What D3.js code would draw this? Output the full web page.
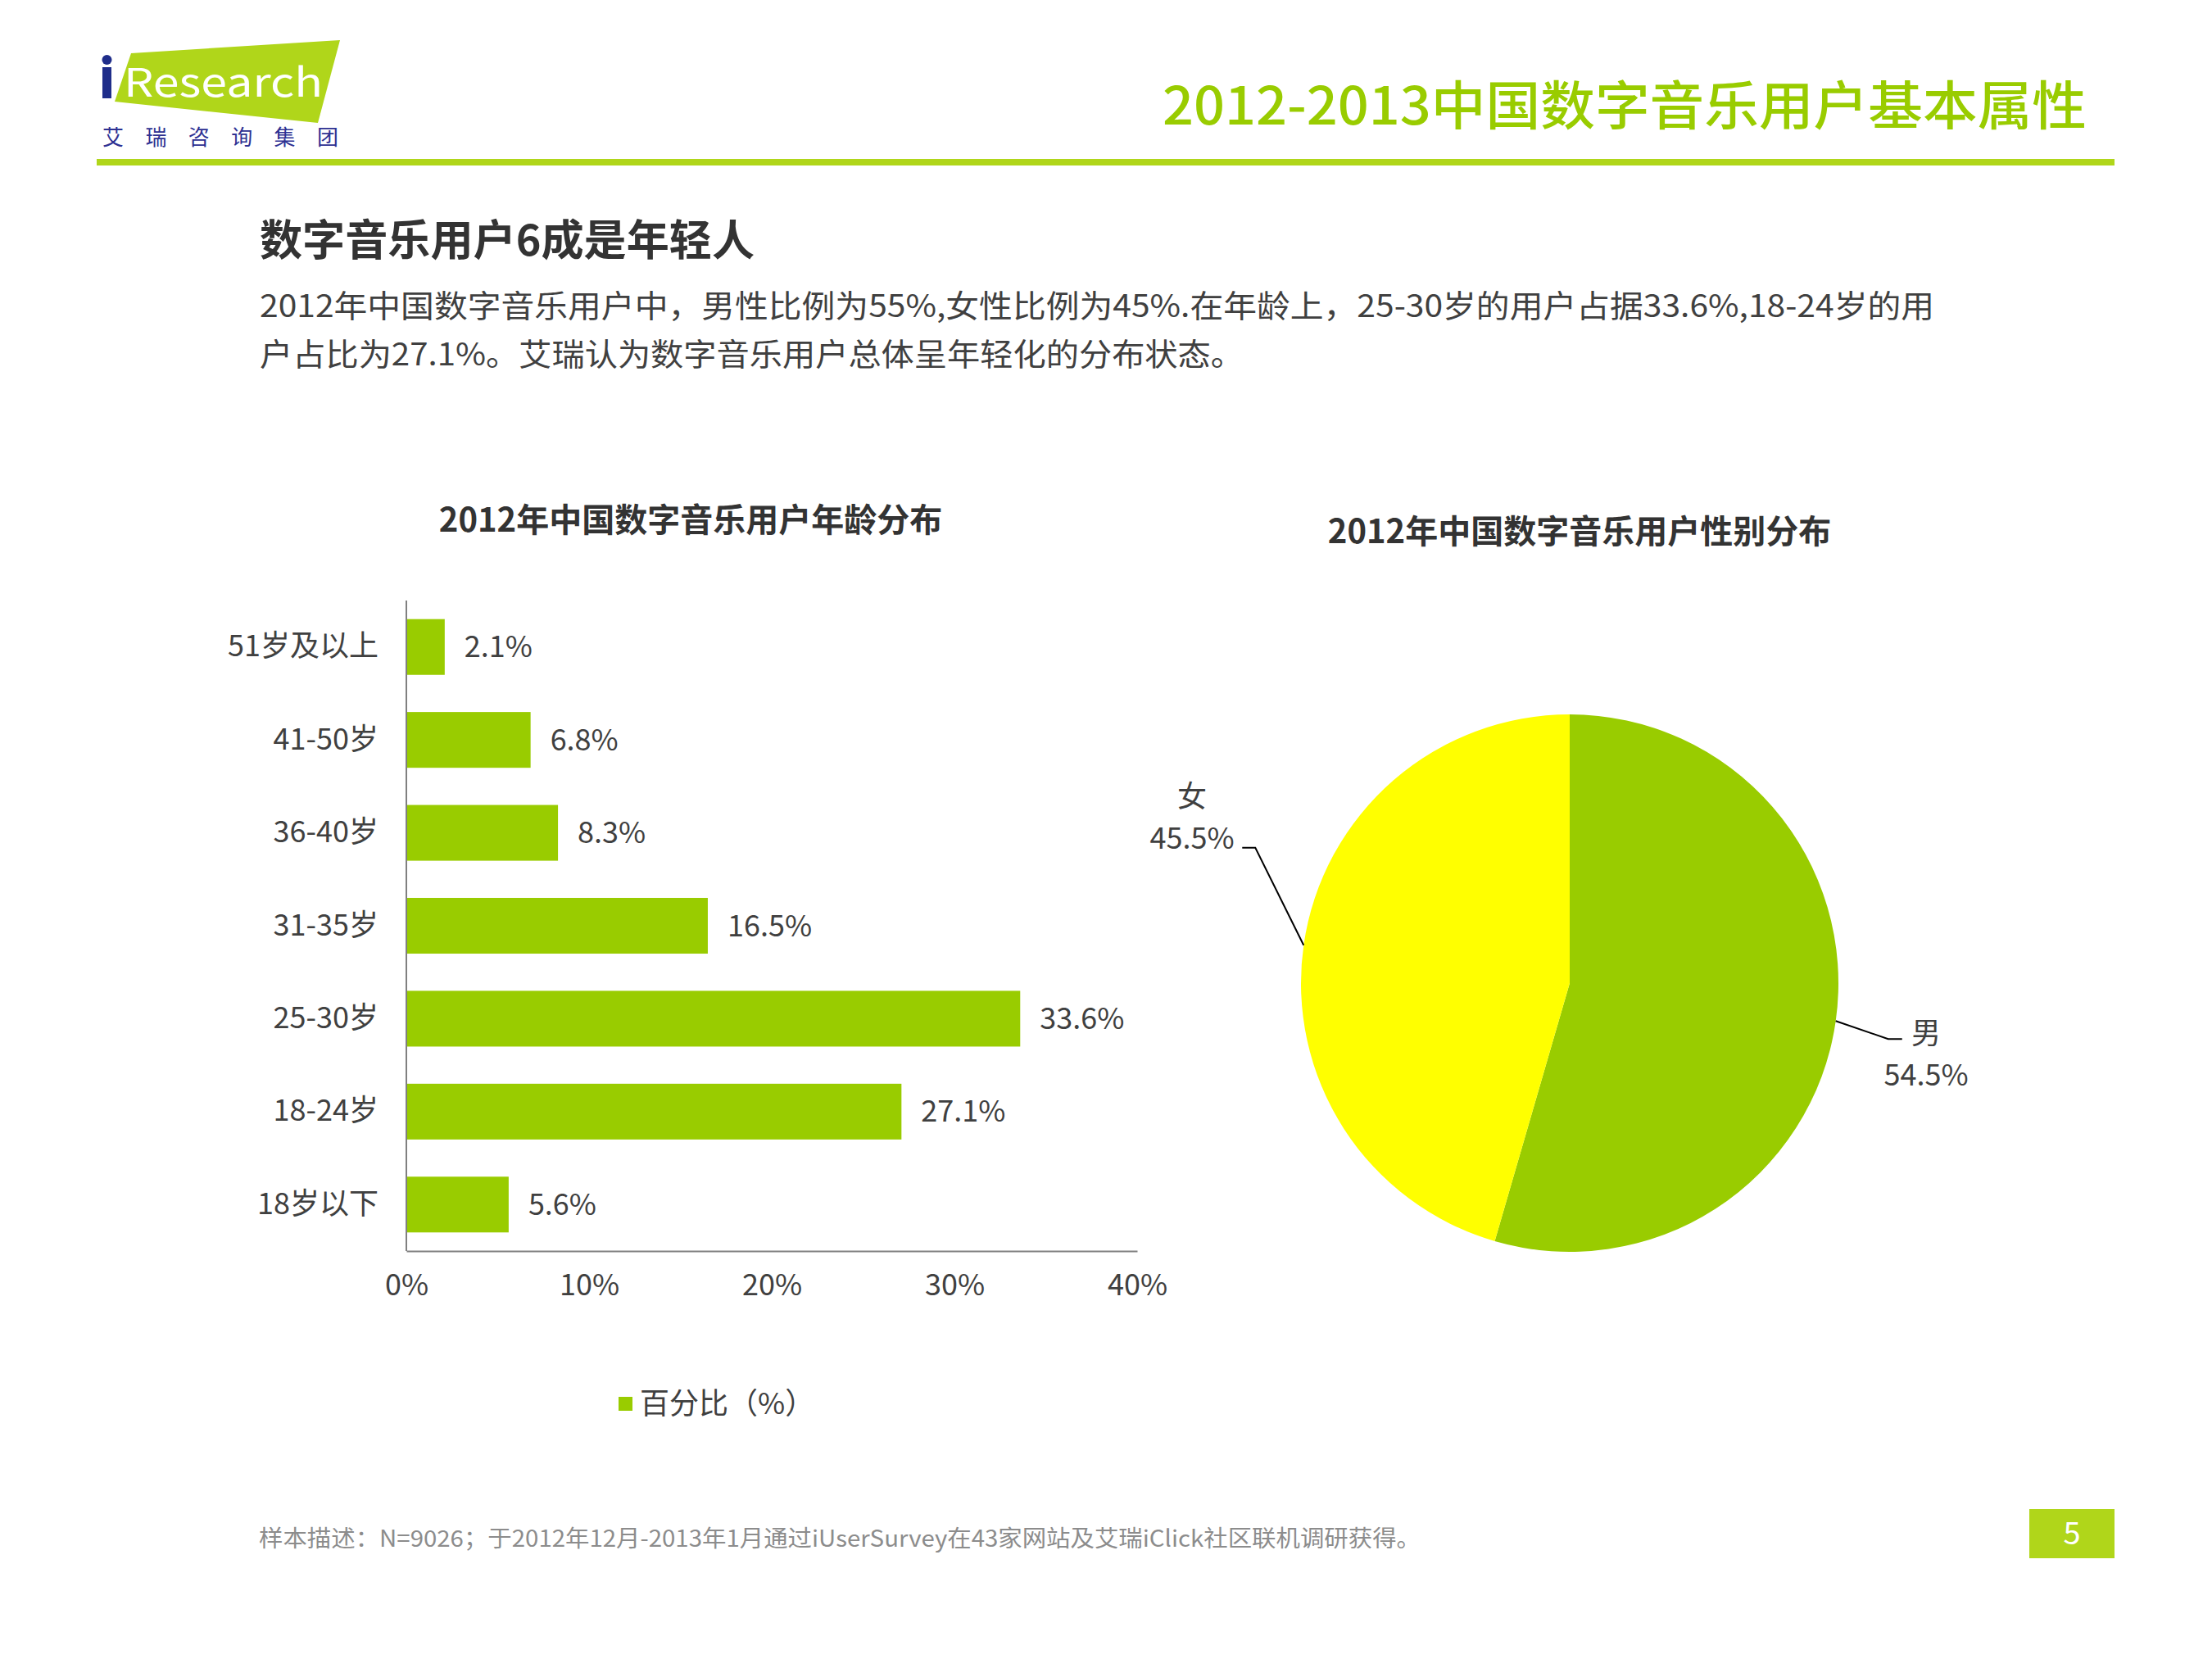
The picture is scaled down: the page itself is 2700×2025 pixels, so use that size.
<!DOCTYPE html>
<html><head><meta charset="utf-8">
<script src="https://cdn.jsdelivr.net/npm/d3@7/dist/d3.min.js"></script>
<style>html,body{margin:0;padding:0;background:#fff;}svg{display:block;}</style>
</head><body>
<script>
// ---- data ----
const ageCategories = ["51岁及以上","41-50岁","36-40岁","31-35岁","25-30岁","18-24岁","18岁以下"];
const ageValues = [2.1, 6.8, 8.3, 16.5, 33.6, 27.1, 5.6];
const xTickValues = [0, 10, 20, 30, 40];
const genderLabels = ["男", "女"];
const genderValues = [54.5, 45.5];
const legendLabel = "百分比（%）";
const pageTitle = "2012-2013中国数字音乐用户基本属性";
const heading = "数字音乐用户6成是年轻人";
const paraLines = ["2012年中国数字音乐用户中，男性比例为55%,女性比例为45%.在年龄上，25-30岁的用户占据33.6%,18-24岁的用",
                   "户占比为27.1%。艾瑞认为数字音乐用户总体呈年轻化的分布状态。"];
const barTitle = "2012年中国数字音乐用户年龄分布";
const pieTitle = "2012年中国数字音乐用户性别分布";
const footnote = "样本描述：N=9026；于2012年12月-2013年1月通过iUserSurvey在43家网站及艾瑞iClick社区联机调研获得。";
const pageNumber = "5";

// ---- drawing ----
const W = 2700, H = 2025;
const FONT = "'Noto Sans CJK SC','Noto Sans',sans-serif";
const GREEN = "#99cc00", LIME = "#b0d61a", TEXT = "#404040";
const svg = d3.select("body").append("svg").attr("width", W).attr("height", H)
  .style("font-family", FONT);

// logo
const logo = svg.append("g");
logo.append("polygon").attr("points", "160,65 415,49 388,150 140,124").attr("fill", LIME);
logo.append("rect").attr("x", 125).attr("y", 82).attr("width", 11).attr("height", 38).attr("fill", "#1f2d8a");
logo.append("circle").attr("cx", 130.5).attr("cy", 73).attr("r", 6).attr("fill", "#1f2d8a");
logo.append("text").attr("x", 151).attr("y", 118).attr("font-size", 48).attr("fill", "#fff")
  .attr("textLength", 243).attr("lengthAdjust", "spacingAndGlyphs").text("Research");
logo.append("text").attr("x", 125).attr("y", 177).attr("font-size", 26).attr("fill", "#2e3192")
  .attr("textLength", 288).attr("lengthAdjust", "spacing").text("艾瑞咨询集团");

// top rule
svg.append("rect").attr("x", 118).attr("y", 194).attr("width", 2463).attr("height", 8).attr("fill", LIME);

// page title
svg.append("text").attr("x", 2547).attr("y", 152).attr("text-anchor", "end").attr("font-size", 64)
  .attr("font-weight", 500).attr("fill", "#99cc00")
  .attr("textLength", 1128).attr("lengthAdjust", "spacingAndGlyphs").text(pageTitle);

// heading + paragraph
svg.append("text").attr("x", 317).attr("y", 312).attr("font-size", 52).attr("font-weight", "bold")
  .attr("fill", "#333").attr("textLength", 604).attr("lengthAdjust", "spacingAndGlyphs").text(heading);
const paraWidths = [2044, 1201];
paraLines.forEach((t, i) => {
  svg.append("text").attr("x", 317).attr("y", 387 + i * 59).attr("font-size", 38).attr("fill", TEXT)
    .attr("textLength", paraWidths[i]).attr("lengthAdjust", "spacingAndGlyphs").text(t);
});

// ---- bar chart ----
const bx0 = 496, bx1 = 1388, by0 = 733, by1 = 1527;
const x = d3.scaleLinear().domain([0, 40]).range([bx0, bx1]);
const y = d3.scaleBand().domain(ageCategories).range([by0, by1]).paddingInner(0.4).paddingOuter(0.2);

svg.append("text").attr("x", 843).attr("y", 649).attr("text-anchor", "middle").attr("font-size", 40)
  .attr("font-weight", "bold").attr("fill", "#333").text(barTitle);

const bars = svg.append("g");
bars.selectAll("rect").data(ageValues).join("rect")
  .attr("x", x(0)).attr("y", (d, i) => y(ageCategories[i]))
  .attr("width", d => x(d) - x(0)).attr("height", y.bandwidth()).attr("fill", GREEN);
bars.selectAll("text.val").data(ageValues).join("text").attr("class", "val")
  .attr("x", d => x(d) + 24).attr("y", (d, i) => y(ageCategories[i]) + y.bandwidth() / 2)
  .attr("dy", "0.35em").attr("font-size", 36).attr("fill", TEXT).text(d => d.toFixed(1) + "%");

const yAxis = svg.append("g").attr("transform", `translate(${bx0},0)`)
  .call(d3.axisLeft(y).tickSize(0).tickPadding(34));
yAxis.select(".domain").attr("stroke", "#808080").attr("stroke-width", 2).attr("d", `M0,${by0}V${by1}`);
yAxis.selectAll("text").attr("font-size", 36).attr("fill", TEXT).attr("font-family", FONT);

const xAxis = svg.append("g").attr("transform", `translate(0,${by1})`)
  .call(d3.axisBottom(x).tickValues(xTickValues).tickSize(0).tickPadding(28).tickFormat(d => d + "%"));
xAxis.select(".domain").attr("stroke", "#808080").attr("stroke-width", 2);
xAxis.selectAll("text").attr("font-size", 36).attr("fill", TEXT).attr("font-family", FONT);

// legend
svg.append("rect").attr("x", 755).attr("y", 1705).attr("width", 17).attr("height", 17).attr("fill", GREEN);
svg.append("text").attr("x", 781).attr("y", 1726).attr("font-size", 36).attr("fill", TEXT).text(legendLabel);

// ---- pie chart ----
const cx = 1916, cy = 1200, R = 328;
svg.append("text").attr("x", 1928).attr("y", 663).attr("text-anchor", "middle").attr("font-size", 40)
  .attr("font-weight", "bold").attr("fill", "#333").text(pieTitle);
const pie = d3.pie().sort(null).value(d => d)(genderValues);
const arc = d3.arc().innerRadius(0).outerRadius(R);
const pieColors = ["#99cc00", "#ffff00"];
const pg = svg.append("g").attr("transform", `translate(${cx},${cy})`);
pg.selectAll("path").data(pie).join("path").attr("d", arc).attr("fill", (d, i) => pieColors[i]);

// leader lines & labels (elbow offsets are layout, not data)
const elbow = [{dx: 64, dy: 22, h: 17}, {dx: -59, dy: -119, h: -16}];
const labelPos = [{x: 435, y: 74}, {x: -461, y: -215}];
pie.forEach((d, i) => {
  const a = (d.startAngle + d.endAngle) / 2;
  const ex = Math.sin(a) * R, ey = -Math.cos(a) * R;
  const mx = ex + elbow[i].dx, my = ey + elbow[i].dy;
  pg.append("path").attr("d", `M${ex},${ey}L${mx},${my}H${mx + elbow[i].h}`)
    .attr("fill", "none").attr("stroke", "#000").attr("stroke-width", 2);
  pg.append("text").attr("x", labelPos[i].x).attr("y", labelPos[i].y).attr("text-anchor", "middle")
    .attr("font-size", 36).attr("fill", TEXT).text(genderLabels[i]);
  pg.append("text").attr("x", labelPos[i].x).attr("y", labelPos[i].y + 51).attr("text-anchor", "middle")
    .attr("font-size", 36).attr("fill", TEXT).text(d.data.toFixed(1) + "%");
});

// footer
svg.append("text").attr("x", 316).attr("y", 1888).attr("font-size", 28).attr("fill", "#8c8c8c")
  .attr("textLength", 1418).attr("lengthAdjust", "spacingAndGlyphs").text(footnote);
svg.append("rect").attr("x", 2477).attr("y", 1842).attr("width", 104).attr("height", 60).attr("fill", LIME);
svg.append("text").attr("x", 2529).attr("y", 1885).attr("text-anchor", "middle").attr("font-size", 38)
  .attr("fill", "#fff").text(pageNumber);
</script>
</body></html>
